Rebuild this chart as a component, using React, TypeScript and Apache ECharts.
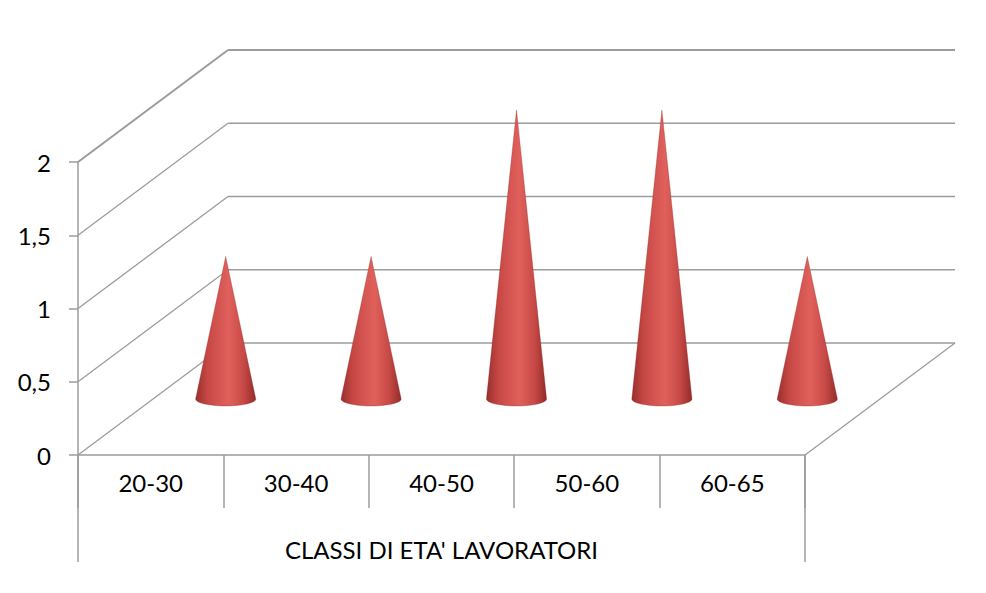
import React, { useEffect, useRef } from "react";
import * as echarts from "echarts";

const categories = ["20-30", "30-40", "40-50", "50-60", "60-65"];
const values = [1, 1, 2, 2, 1];
const yTicks = [0, 0.5, 1, 1.5, 2];
const axisTitle = "CLASSI DI ETA' LAVORATORI";

const DEPTH_X = 150;
const DEPTH_Y = -112;
const MID = 0.5;
const LINE = "#9c9c9c";
const FONT = "Lato, 'Open Sans', sans-serif";

export default function App() {
  const ref = useRef<HTMLDivElement>(null);
  useEffect(() => {
    const chart = echarts.init(ref.current!, null, { renderer: "svg" });

    const wallRender = (params: any, api: any) => {
      const v = api.value(1);
      const p = api.coord([0, v]);
      const bw = api.size([1, 0])[0];
      const x0 = p[0] - bw / 2;
      const xEnd = api.coord([categories.length - 1, v])[0] + bw / 2;
      const y = p[1];
      const style = { stroke: LINE, lineWidth: v === yTicks[yTicks.length - 1] ? 2 : 1.3 };
      const children: any[] = [
        { type: "line", shape: { x1: x0, y1: y, x2: x0 + DEPTH_X, y2: y + DEPTH_Y }, style },
        { type: "line", shape: { x1: x0 + DEPTH_X, y1: y + DEPTH_Y, x2: xEnd + DEPTH_X, y2: y + DEPTH_Y }, style },
      ];
      if (v === 0) {
        children.push({ type: "line", shape: { x1: xEnd, y1: y, x2: xEnd + DEPTH_X, y2: y + DEPTH_Y }, style });
        children.push({ type: "line", shape: { x1: x0, y1: y, x2: x0, y2: y + 107 }, style: { stroke: LINE, lineWidth: 1.5 } });
        children.push({ type: "line", shape: { x1: xEnd, y1: y, x2: xEnd, y2: y + 107 }, style: { stroke: LINE, lineWidth: 1.5 } });
      }
      return { type: "group", children };
    };

    const coneRender = (params: any, api: any) => {
      const i = api.value(0);
      const v = api.value(1);
      const base = api.coord([i, 0]);
      const top = api.coord([i, v]);
      const bw = api.size([1, 0])[0];
      const cx = base[0] + DEPTH_X * MID;
      const cy = base[1] + DEPTH_Y * MID;
      const ty = top[1] + DEPTH_Y * MID + 4;
      const rx = bw * 0.207;
      const ry = 7;
      const pts: number[][] = [[cx, ty]];
      const n = 24;
      for (let k = 0; k <= n; k++) {
        const a = (Math.PI * k) / n;
        pts.push([cx - rx * Math.cos(a), cy + ry * Math.sin(a)]);
      }
      return {
        type: "polygon",
        shape: { points: pts },
        style: {
          fill: {
            type: "linear",
            x: 0, y: 0, x2: 1, y2: 0,
            colorStops: [
              { offset: 0, color: "#982f2d" },
              { offset: 0.2, color: "#c64845" },
              { offset: 0.55, color: "#e0605c" },
              { offset: 0.8, color: "#c74946" },
              { offset: 1, color: "#922c2a" },
            ],
          },
          stroke: "rgba(140,40,38,0.5)",
          lineWidth: 0.6,
        },
      };
    };

    chart.setOption({
      animation: false,
      backgroundColor: "#ffffff",
      grid: { left: 78, right: 181, top: 162, bottom: 138, containLabel: false },
      xAxis: {
        type: "category",
        data: categories,
        boundaryGap: true,
        axisLine: { show: true, lineStyle: { color: LINE, width: 1.5 } },
        axisTick: { show: true, interval: 0, length: 53, lineStyle: { color: LINE, width: 1.5 } },
        axisLabel: { interval: 0, margin: 15, color: "#000", fontSize: 24, fontFamily: FONT },
        name: axisTitle,
        nameLocation: "middle",
        nameGap: 82,
        nameTextStyle: { color: "#000", fontSize: 24, fontFamily: FONT },
        splitLine: { show: false },
      },
      yAxis: {
        type: "value",
        min: 0,
        max: 2,
        interval: 0.5,
        splitLine: { show: false },
        axisLine: { show: true, lineStyle: { color: LINE, width: 1.5 } },
        axisTick: { show: true, length: 9, lineStyle: { color: LINE, width: 1.5 } },
        axisLabel: {
          margin: 27,
          color: "#000",
          fontSize: 24,
          fontFamily: FONT,
          formatter: (v: number) => String(v).replace(".", ","),
        },
      },
      series: [
        {
          type: "custom",
          name: "wall",
          clip: false,
          silent: true,
          z: 1,
          data: yTicks.map((v) => [0, v]),
          encode: { x: 0, y: 1 },
          renderItem: wallRender,
        },
        {
          type: "custom",
          name: "cones",
          clip: false,
          z: 5,
          data: values.map((v, i) => [i, v]),
          encode: { x: 0, y: 1 },
          renderItem: coneRender,
        },
      ],
    });
    return () => chart.dispose();
  }, []);
  return (
    <div
      ref={ref}
      style={{ position: "fixed", left: 0, top: 0, width: 986, height: 593, background: "#fff" }}
    />
  );
}
